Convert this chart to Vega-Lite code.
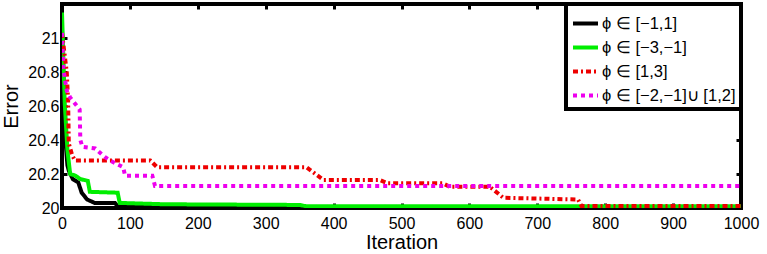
{
  "$schema": "https://vega.github.io/schema/vega-lite/v6.json",
  "width": 679,
  "height": 204,
  "autosize": {"type": "none"},
  "padding": {"left": 62, "top": 4, "right": 26, "bottom": 46},
  "config": {
    "view": {"stroke": "black", "strokeWidth": 4},
    "font": "Liberation Sans",
    "axis": {"domain": false, "grid": false, "tickSize": -5, "tickWidth": 3, "tickColor": "black", "labelFlush": false, "labelOverlap": false,
      "labelFont": "Liberation Sans", "labelFontSize": 16, "labelColor": "black",
      "titleFont": "Liberation Sans", "titleFontSize": 20, "titleFontWeight": "normal", "titleColor": "black"},
    "legend": {"strokeColor": "black", "fillColor": "white", "strokeWidth": 4}
  },
  "data": {"values": [
    {"s": "ϕ ∈ [−1,1]", "x": 0, "y": 21.05},
    {"s": "ϕ ∈ [−1,1]", "x": 2, "y": 20.7},
    {"s": "ϕ ∈ [−1,1]", "x": 5, "y": 20.4},
    {"s": "ϕ ∈ [−1,1]", "x": 8, "y": 20.25},
    {"s": "ϕ ∈ [−1,1]", "x": 10, "y": 20.22},
    {"s": "ϕ ∈ [−1,1]", "x": 16, "y": 20.17},
    {"s": "ϕ ∈ [−1,1]", "x": 24, "y": 20.15},
    {"s": "ϕ ∈ [−1,1]", "x": 29, "y": 20.09},
    {"s": "ϕ ∈ [−1,1]", "x": 37, "y": 20.05},
    {"s": "ϕ ∈ [−1,1]", "x": 48, "y": 20.03},
    {"s": "ϕ ∈ [−1,1]", "x": 78, "y": 20.03},
    {"s": "ϕ ∈ [−1,1]", "x": 82, "y": 20.01},
    {"s": "ϕ ∈ [−1,1]", "x": 200, "y": 20.008},
    {"s": "ϕ ∈ [−1,1]", "x": 350, "y": 20.005},
    {"s": "ϕ ∈ [−1,1]", "x": 1000, "y": 20.003},

    {"s": "ϕ ∈ [−3,−1]", "x": 0, "y": 21.15},
    {"s": "ϕ ∈ [−3,−1]", "x": 4, "y": 20.62},
    {"s": "ϕ ∈ [−3,−1]", "x": 8, "y": 20.34},
    {"s": "ϕ ∈ [−3,−1]", "x": 12, "y": 20.2},
    {"s": "ϕ ∈ [−3,−1]", "x": 20, "y": 20.19},
    {"s": "ϕ ∈ [−3,−1]", "x": 27, "y": 20.17},
    {"s": "ϕ ∈ [−3,−1]", "x": 38, "y": 20.16},
    {"s": "ϕ ∈ [−3,−1]", "x": 41, "y": 20.095},
    {"s": "ϕ ∈ [−3,−1]", "x": 82, "y": 20.09},
    {"s": "ϕ ∈ [−3,−1]", "x": 85, "y": 20.03},
    {"s": "ϕ ∈ [−3,−1]", "x": 150, "y": 20.022},
    {"s": "ϕ ∈ [−3,−1]", "x": 350, "y": 20.018},
    {"s": "ϕ ∈ [−3,−1]", "x": 360, "y": 20.01},
    {"s": "ϕ ∈ [−3,−1]", "x": 1000, "y": 20.01},

    {"s": "ϕ ∈ [1,3]", "x": 0, "y": 21.03},
    {"s": "ϕ ∈ [1,3]", "x": 7, "y": 20.8},
    {"s": "ϕ ∈ [1,3]", "x": 9, "y": 20.63},
    {"s": "ϕ ∈ [1,3]", "x": 10, "y": 20.38},
    {"s": "ϕ ∈ [1,3]", "x": 15, "y": 20.31},
    {"s": "ϕ ∈ [1,3]", "x": 19, "y": 20.28},
    {"s": "ϕ ∈ [1,3]", "x": 130, "y": 20.28},
    {"s": "ϕ ∈ [1,3]", "x": 140, "y": 20.24},
    {"s": "ϕ ∈ [1,3]", "x": 360, "y": 20.24},
    {"s": "ϕ ∈ [1,3]", "x": 385, "y": 20.165},
    {"s": "ϕ ∈ [1,3]", "x": 468, "y": 20.165},
    {"s": "ϕ ∈ [1,3]", "x": 480, "y": 20.145},
    {"s": "ϕ ∈ [1,3]", "x": 561, "y": 20.145},
    {"s": "ϕ ∈ [1,3]", "x": 571, "y": 20.125},
    {"s": "ϕ ∈ [1,3]", "x": 630, "y": 20.125},
    {"s": "ϕ ∈ [1,3]", "x": 650, "y": 20.06},
    {"s": "ϕ ∈ [1,3]", "x": 760, "y": 20.05},
    {"s": "ϕ ∈ [1,3]", "x": 765, "y": 20.012},
    {"s": "ϕ ∈ [1,3]", "x": 1000, "y": 20.012},

    {"s": "ϕ ∈ [−2,−1]∪ [1,2]", "x": 0, "y": 21.03},
    {"s": "ϕ ∈ [−2,−1]∪ [1,2]", "x": 2, "y": 20.82},
    {"s": "ϕ ∈ [−2,−1]∪ [1,2]", "x": 7, "y": 20.69},
    {"s": "ϕ ∈ [−2,−1]∪ [1,2]", "x": 12, "y": 20.65},
    {"s": "ϕ ∈ [−2,−1]∪ [1,2]", "x": 22, "y": 20.6},
    {"s": "ϕ ∈ [−2,−1]∪ [1,2]", "x": 26, "y": 20.58},
    {"s": "ϕ ∈ [−2,−1]∪ [1,2]", "x": 27, "y": 20.4},
    {"s": "ϕ ∈ [−2,−1]∪ [1,2]", "x": 30, "y": 20.36},
    {"s": "ϕ ∈ [−2,−1]∪ [1,2]", "x": 49, "y": 20.35},
    {"s": "ϕ ∈ [−2,−1]∪ [1,2]", "x": 63, "y": 20.3},
    {"s": "ϕ ∈ [−2,−1]∪ [1,2]", "x": 75, "y": 20.27},
    {"s": "ϕ ∈ [−2,−1]∪ [1,2]", "x": 90, "y": 20.24},
    {"s": "ϕ ∈ [−2,−1]∪ [1,2]", "x": 93, "y": 20.19},
    {"s": "ϕ ∈ [−2,−1]∪ [1,2]", "x": 133, "y": 20.19},
    {"s": "ϕ ∈ [−2,−1]∪ [1,2]", "x": 137, "y": 20.13},
    {"s": "ϕ ∈ [−2,−1]∪ [1,2]", "x": 1000, "y": 20.13}
  ]},
  "layer": [
    {
      "mark": {"type": "line", "strokeCap": "butt", "clip": true},
      "encoding": {
        "x": {"field": "x", "type": "quantitative", "scale": {"domain": [0, 1000], "nice": false},
          "axis": {"title": "Iteration", "format": "d", "values": [0,100,200,300,400,500,600,700,800,900,1000], "labelPadding": 12, "titlePadding": 1}},
        "y": {"field": "y", "type": "quantitative", "scale": {"domain": [20, 21.2], "nice": false, "zero": false},
          "axis": {"title": "Error", "values": [20,20.2,20.4,20.6,20.8,21], "format": "~g", "labelPadding": 8, "titlePadding": 6}},
        "color": {"field": "s", "type": "nominal",
          "scale": {"domain": ["ϕ ∈ [−1,1]", "ϕ ∈ [−3,−1]", "ϕ ∈ [1,3]", "ϕ ∈ [−2,−1]∪ [1,2]"], "range": ["#000000", "#00ee00", "#ee0000", "#ee00ee"]},
          "legend": {"title": null, "orient": "top-right", "offset": 0, "symbolType": "stroke", "symbolSize": 625, "symbolStrokeWidth": 4,
            "labelFont": "Liberation Sans", "labelFontSize": 16.5, "labelColor": "black", "padding": 5, "rowPadding": 1, "labelOffset": 2}},
        "strokeDash": {"field": "s", "type": "nominal",
          "scale": {"domain": ["ϕ ∈ [−1,1]", "ϕ ∈ [−3,−1]", "ϕ ∈ [1,3]", "ϕ ∈ [−2,−1]∪ [1,2]"], "range": [[1,0],[1,0],[5,3,2,3],[4,4]]},
          "legend": {"title": null}},
        "strokeWidth": {"field": "s", "type": "nominal",
          "scale": {"domain": ["ϕ ∈ [−1,1]", "ϕ ∈ [−3,−1]", "ϕ ∈ [1,3]", "ϕ ∈ [−2,−1]∪ [1,2]"], "range": [4, 4, 3.5, 4]},
          "legend": null},
        "order": {"field": "x", "type": "quantitative"}
      }
    },
    {
      "mark": {"type": "line", "opacity": 0},
      "encoding": {
        "x": {"field": "x", "type": "quantitative",
          "axis": {"orient": "top", "labels": false, "title": null, "values": [0,100,200,300,400,500,600,700,800,900,1000]}},
        "y": {"field": "y", "type": "quantitative",
          "axis": {"orient": "right", "labels": false, "title": null, "values": [20,20.2,20.4,20.6,20.8,21]}}
      }
    }
  ],
  "resolve": {"axis": {"x": "independent", "y": "independent"}}
}
